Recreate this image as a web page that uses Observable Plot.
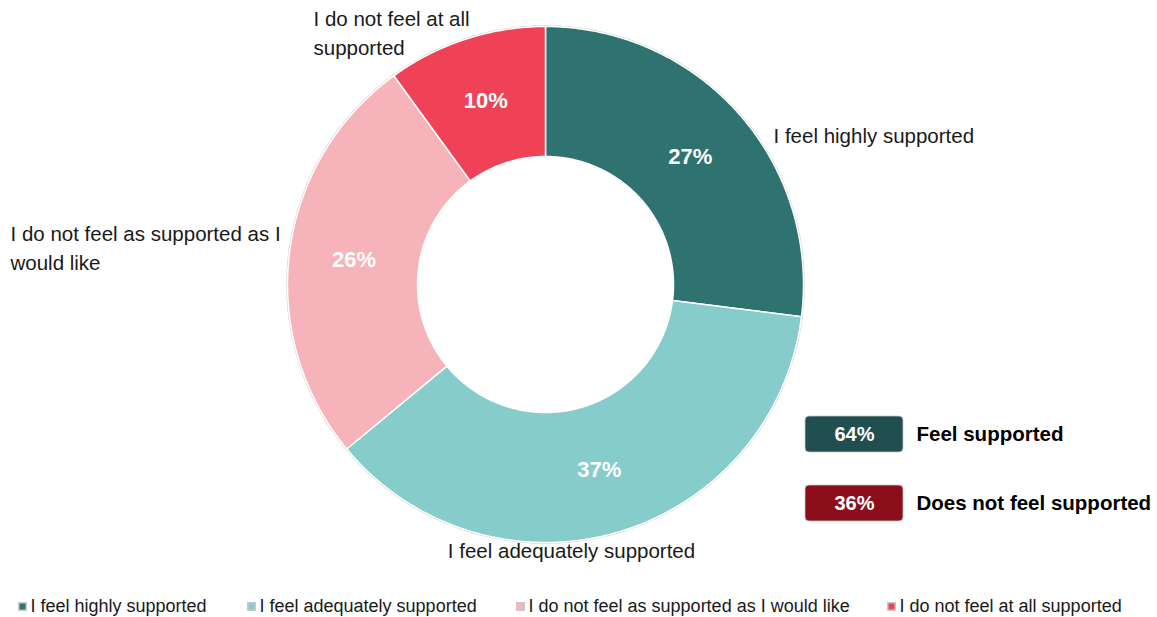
<!DOCTYPE html>
<html>
<head>
<meta charset="utf-8">
<script src="https://cdn.jsdelivr.net/npm/d3@7"></script>
<script src="https://cdn.jsdelivr.net/npm/@observablehq/plot@0.6"></script>
<style>
  html, body { margin: 0; padding: 0; background: #fff; }
  #chart { width: 1157px; height: 617px; }
  svg { font-family: "Liberation Sans", Arial, sans-serif; }
</style>
</head>
<body>
<div id="chart"></div>
<script>
// ---- data ----
const categories = [
  "I feel highly supported",
  "I feel adequately supported",
  "I do not feel as supported as I would like",
  "I do not feel at all supported"
];
const shares = [27, 37, 26, 10];
const sliceLabels = [
  ["I feel highly supported"],
  ["I feel adequately supported"],
  ["I do not feel as supported as I", "would like"],
  ["I do not feel at all", "supported"]
];
const colors = ["#2f7370", "#85cccb", "#f7b3ba", "#f04256"];
const summaryLabels = ["Feel supported", "Does not feel supported"];
const summaryValues = [64, 36];
const summaryColors = ["#214f4f", "#8b0e1a"];

// ---- layout ----
const W = 1157, H = 617;
const cx = 545, cy = 284, rOuter = 258, rInner = 128;
// label anchors (pixel layout)
const labelPos = [
  {x: 773, y: 123, anchor: "start"},
  {x: 571, y: 538, anchor: "middle"},
  {x: 10, y: 221, anchor: "start"},
  {x: 313, y: 6, anchor: "start"}
];
const legendX = [18, 247, 516, 887];
const legendY = 606;

// ---- geometry via d3.pie ----
const pie = d3.pie().sort(null).value(d => d)(shares);
const pt = (r, a) => [cx + r * Math.sin(a), cy - r * Math.cos(a)];
const polys = [];
pie.forEach((p, i) => {
  const n = Math.max(8, Math.ceil((p.endAngle - p.startAngle) / 0.01));
  const ring = [];
  for (let k = 0; k <= n; k++) ring.push(pt(rOuter, p.startAngle + (p.endAngle - p.startAngle) * k / n));
  for (let k = n; k >= 0; k--) ring.push(pt(rInner, p.startAngle + (p.endAngle - p.startAngle) * k / n));
  ring.push(ring[0]);
  ring.forEach(([x, y]) => polys.push({cat: categories[i], x, y}));
});
const outline = d3.range(0, 361).map(d => {
  const [x, y] = pt(rOuter + 0.5, d * Math.PI / 180);
  return {x, y};
});
const pctLabels = pie.map((p, i) => {
  const [x, y] = pt((rOuter + rInner) / 2, (p.startAngle + p.endAngle) / 2);
  return {x, y, text: shares[i] + "%"};
});
const outerLabels = sliceLabels.map((lines, i) => ({
  x: labelPos[i].x, y: labelPos[i].y, anchor: labelPos[i].anchor, text: lines.join("\n")
}));
const summary = summaryLabels.map((lab, i) => ({
  label: lab, value: summaryValues[i] + "%", color: summaryColors[i],
  y1: [416, 485][i], y2: [452, 521][i]
}));
const legend = categories.map((c, i) => ({cat: c, x: legendX[i], y: legendY}));

const labelStyle = {x: "x", y: "y", text: "text", lineAnchor: "top", fontSize: 20.5, fill: "#1a1a1a", lineHeight: 1.37};

const chart = Plot.plot({
  width: W, height: H,
  margin: 0,
  x: {domain: [0, W], range: [0, W], axis: null},
  y: {domain: [0, H], range: [0, H], axis: null},
  color: {domain: categories, range: colors},
  style: {fontFamily: "'Liberation Sans', Arial, sans-serif", background: "#fff"},
  marks: [
    Plot.line(outline, {x: "x", y: "y", stroke: "#d0d0d0", strokeWidth: 1.5}),
    Plot.line(polys, {x: "x", y: "y", z: "cat", fill: "cat", stroke: "white", strokeWidth: 1.5, strokeLinejoin: "round", curve: "linear"}),
    Plot.text(pctLabels, {x: "x", y: "y", text: "text", fill: "white", fontSize: 22, fontWeight: "bold"}),
    Plot.text(outerLabels.filter(d => d.anchor === "start"), {...labelStyle, textAnchor: "start"}),
    Plot.text(outerLabels.filter(d => d.anchor === "middle"), {...labelStyle, textAnchor: "middle"}),
    // summary boxes
    Plot.rect(summary, {x1: 805, x2: 903, y1: "y1", y2: "y2", fill: "color", rx: 4, stroke: "#c8c8c8", strokeWidth: 0.8}),
    Plot.text(summary, {x: 854, y: d => (d.y1 + d.y2) / 2, text: "value", fill: "white", fontSize: 20, fontWeight: "bold"}),
    Plot.text(summary, {x: 916, y: d => (d.y1 + d.y2) / 2, text: "label", textAnchor: "start", fill: "#000", fontSize: 20.5, fontWeight: "bold"}),
    // bottom legend
    Plot.dot(legend, {x: d => d.x + 4, y: "y", symbol: "square", r: 4.2, fill: "cat", stroke: "#c8c8c8", strokeWidth: 1.5}),
    Plot.text(legend, {x: d => d.x + 12, y: "y", text: "cat", textAnchor: "start", fontSize: 18, fill: "#1a1a1a"})
  ]
});
document.getElementById("chart").append(chart);
</script>
</body>
</html>
